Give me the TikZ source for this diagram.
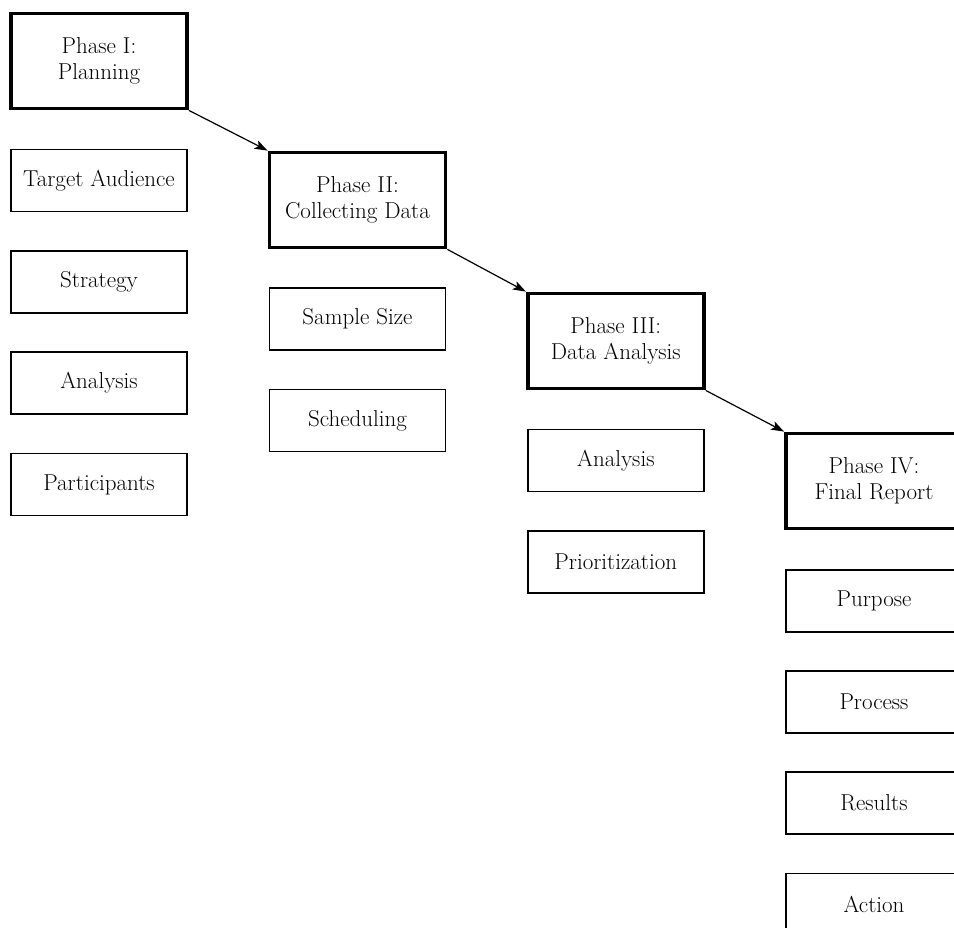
\documentclass[tikz,border=0pt]{standalone}
\usetikzlibrary{arrows.meta}
\begin{document}
\begin{tikzpicture}[x=1pt,y=-1pt,
  phasebox/.style={draw=black, line width=3.8pt, rectangle, minimum width=176pt,
    minimum height=95pt, align=center, inner sep=0pt,
    font=\fontsize{23}{26}\selectfont},
  itembox/.style={draw=black, line width=1.5pt, rectangle, minimum width=176pt,
    minimum height=62pt, align=center, inner sep=0pt,
    font=\fontsize{23}{26}\selectfont},
  flow/.style={line width=1.2pt, -{Stealth[length=13pt,width=9pt,inset=3pt]}}]
\useasboundingbox (0,0) rectangle (954,928);
\clip (0,0) rectangle (954,928);

% Phase I
\node[phasebox] (p1) at (99,61) {Phase I:\\Planning};
\node[itembox] (p1a) at (99,180.5) {Target Audience};
\node[itembox] (p1b) at (99,282) {Strategy};
\node[itembox] (p1c) at (99,383) {Analysis};
\node[itembox] (p1d) at (99,484.5) {Participants};

% Phase II
\node[phasebox] (p2) at (357.5,200) {Phase II:\\Collecting Data};
\node[itembox] (p2a) at (357.5,319.2) {Sample Size};
\node[itembox] (p2b) at (357.5,420.5) {Scheduling};

% Phase III
\node[phasebox] (p3) at (615.8,341) {Phase III:\\Data Analysis};
\node[itembox] (p3a) at (615.8,460.5) {Analysis};
\node[itembox] (p3b) at (615.8,562.2) {Prioritization};

% Phase IV
\node[phasebox] (p4) at (874,481) {Phase IV:\\Final Report};
\node[itembox] (p4a) at (874,600.8) {Purpose};
\node[itembox] (p4b) at (874,702.2) {Process};
\node[itembox] (p4c) at (874,803.1) {Results};
\node[itembox] (p4d) at (874,904.3) {Action};

% connectors between phases
\draw[flow] (p1.south east) -- (p2.north west);
\draw[flow] (p2.south east) -- (p3.north west);
\draw[flow] (p3.south east) -- (p4.north west);
\end{tikzpicture}
\end{document}
